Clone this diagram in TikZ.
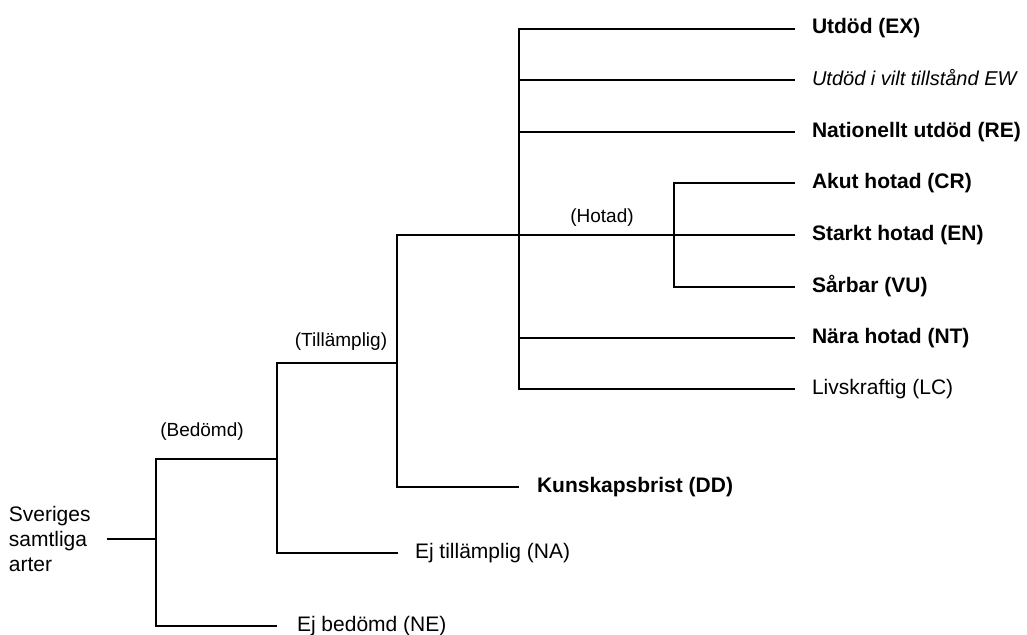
\documentclass[tikz,border=0pt]{standalone}
\usepackage{fontspec}
\setmainfont{Liberation Sans}
\begin{document}
\begin{tikzpicture}[x=1pt,y=-1pt,line width=1.8pt,
  leaf/.style={anchor=west,inner sep=0pt,outer xsep=17pt,text height=15pt,text depth=5pt,font=\fontsize{21}{25}\selectfont},
  bleaf/.style={leaf,font=\fontsize{21}{25}\selectfont\bfseries},
  tag/.style={inner sep=0pt,font=\fontsize{19}{23}\selectfont}]
\useasboundingbox (0,0) rectangle (1027,634);
% root text
\node[inner sep=0pt,anchor=west,align=left,font=\fontsize{21}{25}\selectfont] (root) at (8,539) {Sveriges\\samtliga\\arter};
% leaves
\node[bleaf] (ex) at (795,29) {Utdöd (EX)};
\node[leaf,font=\fontsize{20}{24}\selectfont\itshape] (ew) at (795,80) {Utdöd i vilt tillstånd EW};
\node[bleaf] (re) at (795,132) {Nationellt utdöd (RE)};
\node[bleaf] (cr) at (795,183) {Akut hotad (CR)};
\node[bleaf] (en) at (795,235) {Starkt hotad (EN)};
\node[bleaf] (vu) at (795,287) {Sårbar (VU)};
\node[bleaf] (nt) at (795,338) {Nära hotad (NT)};
\node[leaf] (lc) at (795,389) {Livskraftig (LC)};
\node[bleaf,outer xsep=18pt] (dd) at (519,487) {Kunskapsbrist (DD)};
\node[leaf] (na) at (398,553) {Ej tillämplig (NA)};
\node[leaf,outer xsep=20pt] (ne) at (277,626) {Ej bedömd (NE)};
% junctions
\coordinate (j1) at (156,539);
\coordinate (j2) at (277,459);
\coordinate (j3) at (397,363);
\coordinate (j4) at (519,235);
\coordinate (j5) at (674,235);
% branch labels
\node[tag] (lbed) at (202,432) {(Bedömd)};
\node[tag] (ltil) at (341,342) {(Tillämplig)};
\node[tag] (lhot) at (602,218) {(Hotad)};
% connectors
\draw ([xshift=15pt]root.east) -- (j1);
\draw (j2) -| (j1) |- (ne.west);
\draw (j3) -| (j2) |- (na.west);
\draw (en.west) -| (j3) |- (dd.west);
\draw (ex.west) -| (j4) |- (lc.west);
\draw (j4 |- ew.west) -- (ew.west);
\draw (j4 |- re.west) -- (re.west);
\draw (j4 |- nt.west) -- (nt.west);
\draw (cr.west) -| (j5) |- (vu.west);
\end{tikzpicture}
\end{document}
